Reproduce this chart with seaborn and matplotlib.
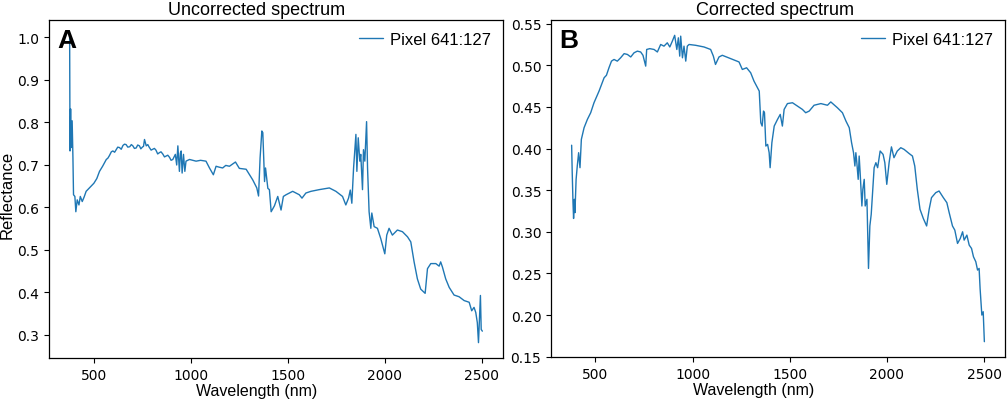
import matplotlib
matplotlib.use("Agg")
import matplotlib.pyplot as plt
import seaborn as sns
import pandas as pd

# ---------------- data ----------------
wl_uncorrected = [375, 377, 380, 383, 388, 392, 395, 402, 407, 414, 423, 430, 440, 450, 460, 475,
                  500, 515, 529, 545, 564, 572, 580, 590, 598, 607, 615, 623, 632, 641, 650, 658,
                  666, 675, 685, 693, 701, 709, 718, 726, 735, 742, 750, 756, 761, 770, 778, 785,
                  795, 804, 812, 820, 829, 838, 846, 855, 864, 873, 881, 890, 898, 907, 920, 927,
                  933, 941, 946, 950, 955, 962, 969, 975, 993, 1027, 1050, 1078, 1096, 1116, 1130,
                  1145, 1164, 1180, 1199, 1230, 1250, 1285, 1319, 1340, 1349, 1357, 1366, 1371,
                  1380, 1385, 1397, 1405, 1414, 1431, 1448, 1465, 1477, 1491, 1525, 1559, 1573,
                  1593, 1619, 1662, 1714, 1748, 1782, 1799, 1813, 1822, 1830, 1839, 1851, 1856,
                  1863, 1871, 1876, 1885, 1890, 1897, 1906, 1911, 1919, 1928, 1933, 1945, 1962,
                  1979, 2000, 2010, 2022, 2039, 2065, 2091, 2117, 2134, 2151, 2168, 2185, 2208,
                  2220, 2237, 2263, 2280, 2288, 2297, 2314, 2332, 2357, 2383, 2409, 2435, 2448,
                  2460, 2469, 2477, 2483, 2488, 2493, 2497, 2503]
refl_uncorrected = [1.005, 0.733, 0.832, 0.741, 0.804, 0.717, 0.630, 0.626, 0.590, 0.618, 0.606,
                    0.626, 0.614, 0.625, 0.638, 0.645, 0.657, 0.668, 0.685, 0.697, 0.713, 0.716,
                    0.722, 0.731, 0.733, 0.730, 0.736, 0.742, 0.741, 0.737, 0.746, 0.749, 0.748,
                    0.742, 0.743, 0.748, 0.745, 0.739, 0.740, 0.747, 0.745, 0.738, 0.742, 0.744,
                    0.760, 0.745, 0.748, 0.742, 0.735, 0.737, 0.739, 0.735, 0.726, 0.729, 0.731,
                    0.726, 0.719, 0.721, 0.723, 0.718, 0.711, 0.713, 0.725, 0.700, 0.745, 0.685,
                    0.728, 0.733, 0.681, 0.725, 0.685, 0.709, 0.713, 0.709, 0.711, 0.709, 0.693,
                    0.677, 0.697, 0.695, 0.693, 0.699, 0.697, 0.707, 0.692, 0.690, 0.665, 0.646,
                    0.627, 0.717, 0.780, 0.776, 0.661, 0.693, 0.645, 0.642, 0.590, 0.604, 0.626,
                    0.594, 0.626, 0.630, 0.638, 0.630, 0.622, 0.634, 0.638, 0.642, 0.646, 0.638,
                    0.626, 0.606, 0.622, 0.641, 0.610, 0.693, 0.772, 0.685, 0.764, 0.709, 0.725,
                    0.642, 0.736, 0.709, 0.802, 0.693, 0.590, 0.551, 0.587, 0.555, 0.551, 0.527,
                    0.491, 0.535, 0.551, 0.535, 0.547, 0.543, 0.531, 0.519, 0.472, 0.432, 0.408,
                    0.398, 0.456, 0.468, 0.468, 0.462, 0.472, 0.460, 0.432, 0.412, 0.394, 0.390,
                    0.381, 0.377, 0.357, 0.365, 0.353, 0.329, 0.282, 0.337, 0.393, 0.313, 0.309]

wl_corrected = [378, 381, 385, 388, 392, 395, 401, 407, 414, 421, 428, 442, 459, 476, 493, 519,
                545, 557, 570, 583, 596, 613, 630, 648, 665, 682, 699, 716, 733, 745, 759, 764,
                780, 802, 819, 836, 853, 870, 883, 896, 908, 919, 927, 934, 939, 948, 956, 965,
                973, 982, 1016, 1059, 1093, 1107, 1118, 1136, 1153, 1196, 1239, 1256, 1278,
                1299, 1316, 1334, 1343, 1351, 1358, 1365, 1370, 1377, 1386, 1394, 1399, 1408,
                1420, 1437, 1451, 1462, 1471, 1488, 1514, 1539, 1565, 1582, 1600, 1625, 1660,
                1694, 1711, 1745, 1771, 1789, 1806, 1818, 1828, 1835, 1840, 1845, 1852, 1857,
                1862, 1871, 1876, 1883, 1888, 1897, 1905, 1912, 1919, 1928, 1934, 1943, 1952,
                1965, 1980, 1989, 1999, 2011, 2023, 2036, 2053, 2071, 2088, 2114, 2131, 2143,
                2156, 2170, 2187, 2204, 2217, 2229, 2251, 2268, 2290, 2308, 2320, 2337, 2349,
                2363, 2377, 2389, 2397, 2411, 2423, 2435, 2445, 2457, 2466, 2474, 2479, 2488,
                2495, 2501]
refl_corrected = [0.404, 0.371, 0.335, 0.316, 0.339, 0.323, 0.363, 0.379, 0.395, 0.377, 0.411,
                  0.425, 0.435, 0.443, 0.455, 0.469, 0.485, 0.488, 0.497, 0.505, 0.507, 0.505,
                  0.509, 0.514, 0.513, 0.510, 0.515, 0.517, 0.516, 0.512, 0.499, 0.519, 0.520,
                  0.519, 0.516, 0.525, 0.523, 0.527, 0.522, 0.529, 0.536, 0.519, 0.533, 0.511,
                  0.535, 0.509, 0.523, 0.505, 0.523, 0.525, 0.524, 0.522, 0.519, 0.511, 0.501,
                  0.510, 0.512, 0.508, 0.504, 0.495, 0.497, 0.491, 0.481, 0.473, 0.469, 0.431,
                  0.427, 0.445, 0.443, 0.403, 0.405, 0.395, 0.377, 0.407, 0.427, 0.435, 0.441,
                  0.427, 0.447, 0.454, 0.455, 0.451, 0.447, 0.443, 0.445, 0.452, 0.454, 0.452,
                  0.456, 0.449, 0.443, 0.433, 0.425, 0.407, 0.395, 0.379, 0.395, 0.383, 0.363,
                  0.391, 0.371, 0.331, 0.351, 0.363, 0.331, 0.339, 0.256, 0.307, 0.321, 0.355,
                  0.377, 0.383, 0.377, 0.397, 0.393, 0.383, 0.357, 0.383, 0.402, 0.389, 0.397,
                  0.401, 0.399, 0.394, 0.391, 0.379, 0.351, 0.327, 0.316, 0.307, 0.327, 0.341,
                  0.347, 0.349, 0.341, 0.335, 0.323, 0.307, 0.302, 0.286, 0.292, 0.300, 0.290,
                  0.296, 0.284, 0.280, 0.270, 0.264, 0.254, 0.256, 0.232, 0.200, 0.204, 0.168]

titles = ["Uncorrected spectrum", "Corrected spectrum"]
panel_labels = ["A", "B"]
legend_label = "Pixel 641:127"
x_label = "Wavelength (nm)"
y_label = "Reflectance"

# ---------------- style ----------------
sns.set_style("ticks")
plt.rcParams["font.family"] = ["Liberation Sans", "DejaVu Sans"]
for key in ["axes.edgecolor", "xtick.color", "ytick.color", "text.color", "axes.labelcolor"]:
    plt.rcParams[key] = "black"
plt.rcParams["xtick.major.size"] = 3.5
plt.rcParams["ytick.major.size"] = 3.5
plt.rcParams["axes.linewidth"] = 0.9

fig = plt.figure(figsize=(10.08, 4.02), dpi=100)
W, H = 1008, 402
ax1 = fig.add_axes([49 / W, 1 - 359 / H, 454 / W, 338 / H])
ax2 = fig.add_axes([551 / W, 1 - 358 / H, 454 / W, 337 / H])

dfs = [pd.DataFrame({"wl": wl_uncorrected, "refl": refl_uncorrected}),
       pd.DataFrame({"wl": wl_corrected, "refl": refl_corrected})]
title_x = [0.457, 0.493]
xlabel_x = [0.457, 0.447]

for i, (ax, df) in enumerate(zip([ax1, ax2], dfs)):
    sns.lineplot(data=df, x="wl", y="refl", ax=ax, color="#1f77b4", linewidth=1.0,
                 label=legend_label, estimator=None)
    ax.set_title(titles[i], fontsize=13, pad=4.5, x=title_x[i], color="black")
    ax.set_xlabel(x_label, fontsize=11.5, labelpad=1)
    ax.xaxis.label.set_x(xlabel_x[i])
    ax.set_ylabel(y_label if i == 0 else "", fontsize=12, labelpad=2)
    ax.set_xticks([500, 1000, 1500, 2000, 2500])
    for lab in ax.get_xticklabels() + ax.get_yticklabels():
        lab.set_fontfamily("DejaVu Sans")
        lab.set_fontsize(10)
    ax.text(0.018, 0.975, panel_labels[i], transform=ax.transAxes, fontsize=19,
            fontweight="bold", va="top", ha="left", color="black")
    ax.legend(loc="upper right", frameon=False, fontsize=12, handlelength=1.45,
              handletextpad=0.45, borderaxespad=0.3)

ax1.yaxis.label.set_y(0.485)
ax1.set_yticks([0.3, 0.4, 0.5, 0.6, 0.7, 0.8, 0.9, 1.0])
ax2.set_yticks([0.15, 0.20, 0.25, 0.30, 0.35, 0.40, 0.45, 0.50, 0.55])
ax2.set_yticklabels([f"{v:.2f}" for v in [0.15, 0.20, 0.25, 0.30, 0.35, 0.40, 0.45, 0.50, 0.55]],
                    fontfamily="DejaVu Sans", fontsize=10)
ax1.margins(x=0.05, y=0.05)
ax2.set_ylim(0.1496, 0.5544)

fig.savefig("out.png", dpi=100)
